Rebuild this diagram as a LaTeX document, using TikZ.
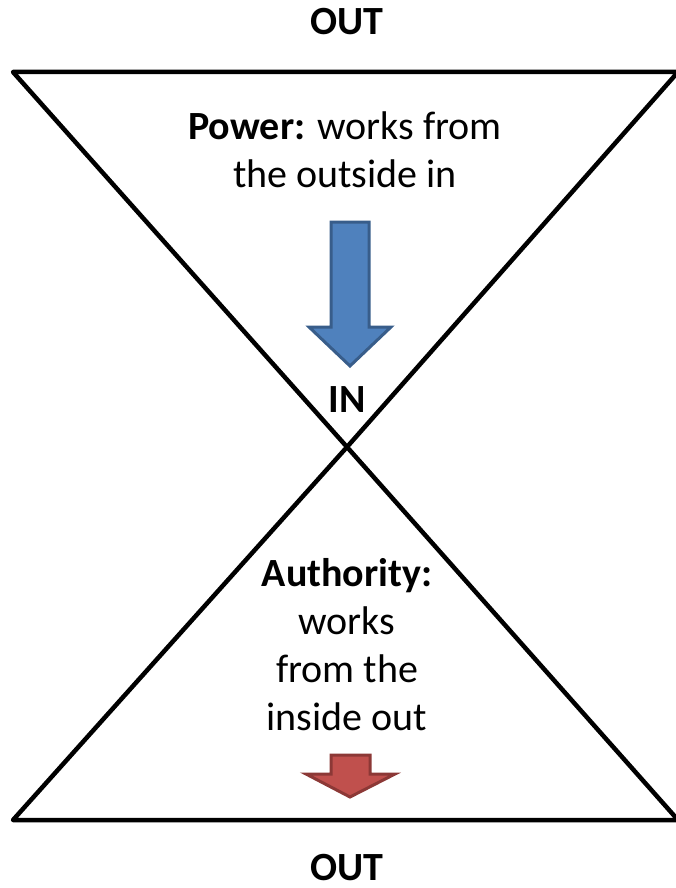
\documentclass[tikz,border=0pt]{standalone}
\usepackage{fontspec}
\setmainfont{Carlito}
\usetikzlibrary{positioning}
\definecolor{powerfill}{HTML}{4F81BD}
\definecolor{powerline}{HTML}{385D8A}
\definecolor{authfill}{HTML}{C0504D}
\definecolor{authline}{HTML}{8C3836}
\tikzstyle{label} = [align=center, font=\fontsize{40}{48}\selectfont, inner sep=0pt]
\tikzstyle{tip} = [font=\fontsize{40}{48}\selectfont\bfseries, inner sep=0pt]
\tikzstyle{edge} = [line width=4.5pt, line join=round, line cap=round]
\tikzstyle{powerarrow} = [line width=3pt, line join=miter, draw=powerline, fill=powerfill]
\tikzstyle{autharrow} = [line width=3pt, line join=miter, draw=authline, fill=authfill]

\begin{document}
\begin{tikzpicture}[x=1pt, y=-1pt]
	\useasboundingbox (0,0) rectangle (676,888);
	\coordinate (tl) at (13,72);
	\coordinate (tr) at (678,72);
	\coordinate (mid) at (347,447);
	\coordinate (bl) at (13,820);
	\coordinate (br) at (678,820);
	% hourglass
	\draw [edge] (tl) -- (tr) -- (mid) -- cycle;
	\draw [edge] (bl) -- (br) -- (mid) -- cycle;
	% labels
	\node (outTop) [tip] at (347,22) {OUT};
	\node (in) [tip] at (347,400) {IN};
	\node (outBottom) [tip] at (347,868) {OUT};
	\node (power) [label] at (345,150) {\textbf{Power:} works from\\the outside in};
	\node (authority) [label] at (347,645) {\textbf{Authority:}\\works\\from the\\inside out};
	% arrows
	\draw [powerarrow] (331,222) -- (369,222) -- (369,327) -- (391,327) -- (350,366)
		-- (309,327) -- (331,327) -- cycle;
	\draw [autharrow] (331,755) -- (370,755) -- (370,774) -- (395,774) -- (350,797)
		-- (306,774) -- (331,774) -- cycle;
\end{tikzpicture}
\end{document}
